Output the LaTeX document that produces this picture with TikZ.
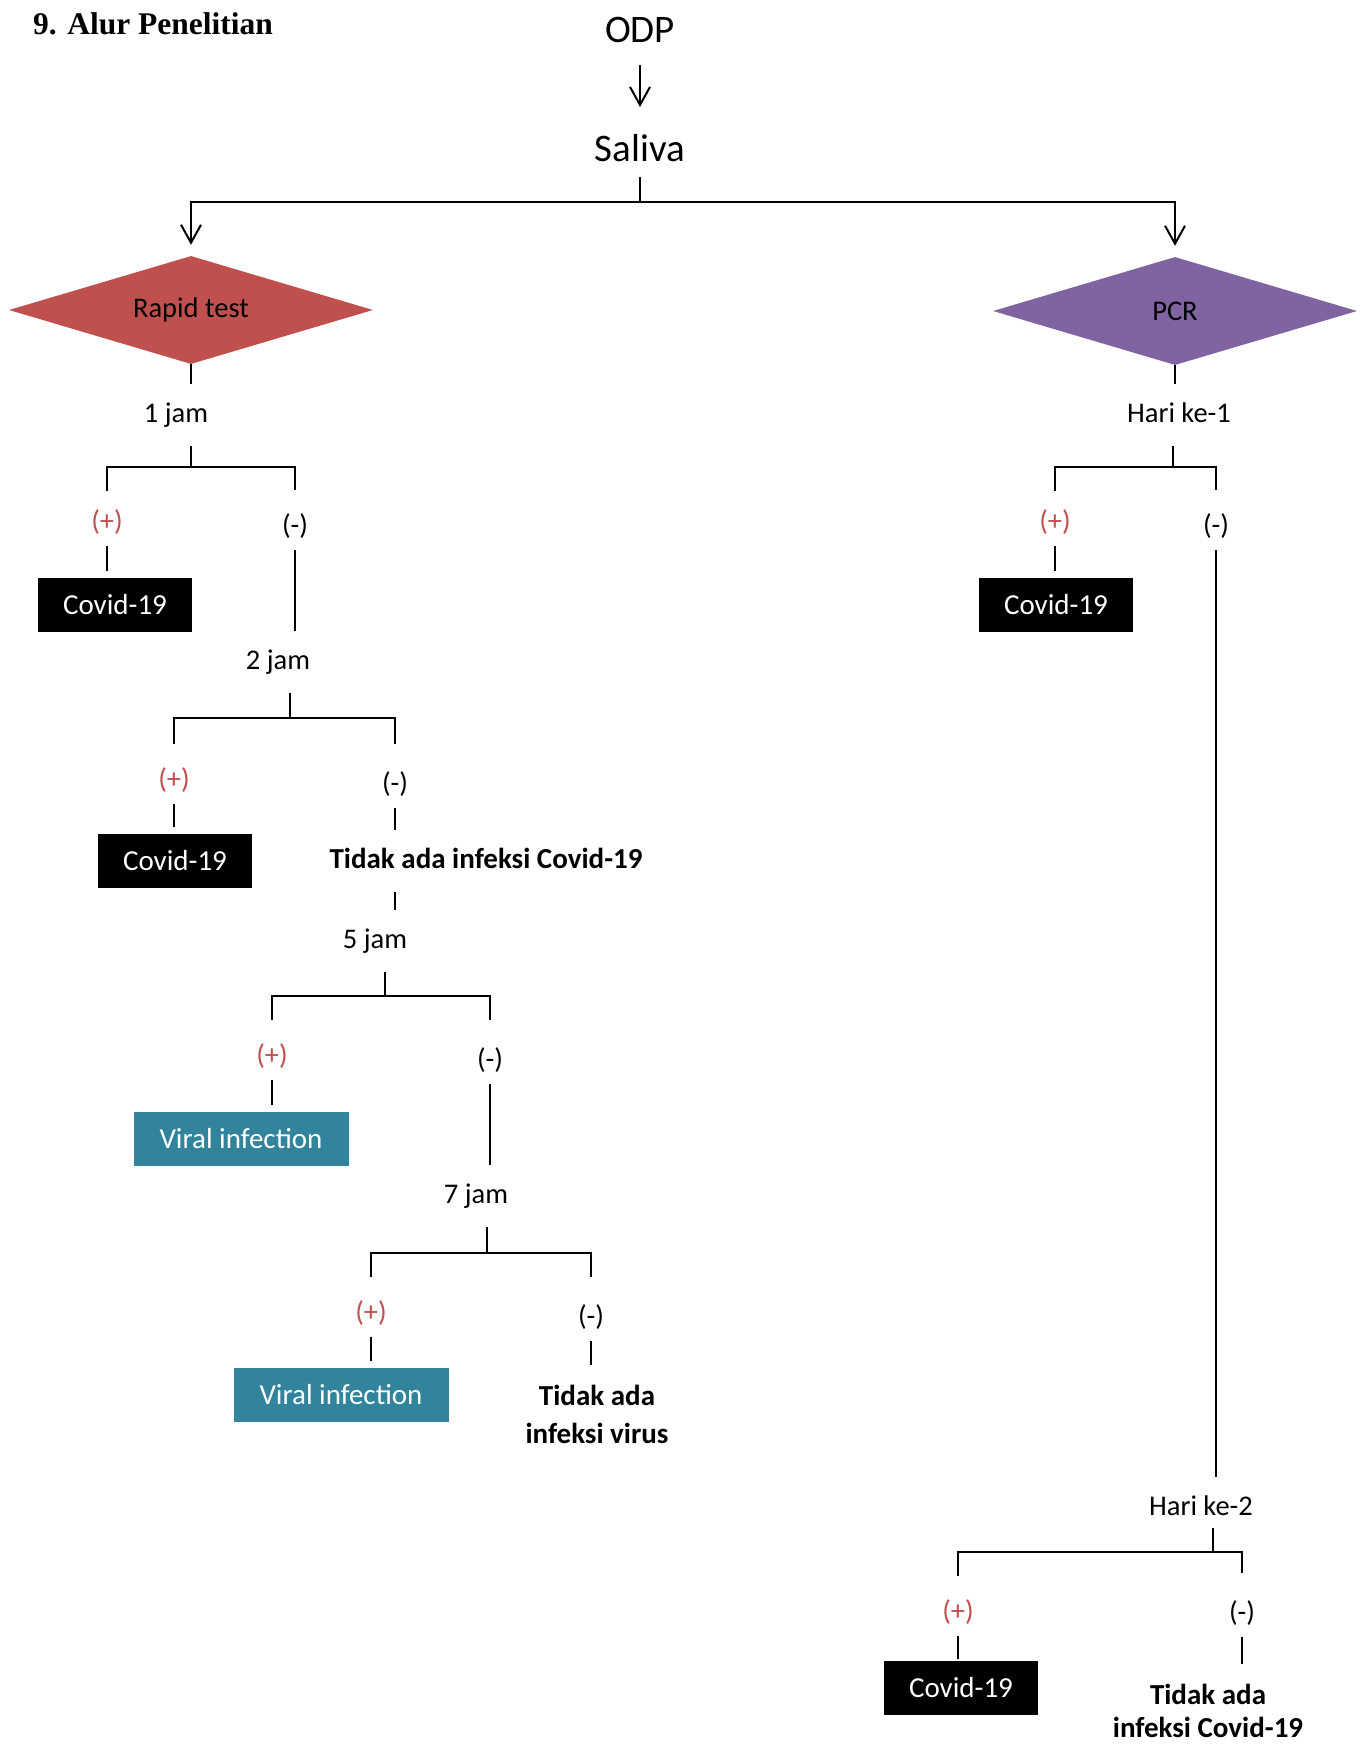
\documentclass[tikz,border=0pt]{standalone}
\usepackage{fontspec}
\setmainfont{Carlito}
\newfontfamily\titlefont{Liberation Serif}
\usetikzlibrary{shapes.geometric, arrows.meta}
\definecolor{RapidRed}{RGB}{192,80,77}
\definecolor{PcrPurple}{RGB}{128,100,162}
\definecolor{ViralTeal}{RGB}{49,132,155}

\begin{document}
\begin{tikzpicture}[x=1pt, y=-1pt,
  big/.style={font=\fontsize{39}{47}\selectfont, inner sep=0pt, text height=28pt, text depth=8pt, outer ysep=7pt, anchor=base},
  decision/.style={diamond, aspect=3.37, inner sep=0pt, minimum width=364pt, minimum height=108pt, font=\fontsize{28.5}{34}\selectfont},
  lvl/.style={font=\fontsize{28.5}{34}\selectfont, inner sep=0pt, text height=20pt, text depth=6pt, outer ysep=18pt, anchor=base},
  plussign/.style={lvl, outer ysep=10pt, text=RapidRed},
  minussign/.style={lvl, outer ysep=10pt},
  covid/.style={fill=black, text=white, minimum width=154pt, minimum height=54pt, inner sep=0pt, font=\fontsize{29}{35}\selectfont},
  viral/.style={covid, fill=ViralTeal, minimum width=215pt},
  result/.style={font=\fontsize{29}{38}\selectfont\bfseries, inner sep=0pt, outer ysep=20pt, align=center, anchor=north},
  link/.style={line width=2pt},
  arrow/.style={link, -{Straight Barb[length=18pt, width=20pt]}}
]
\useasboundingbox (0,0) rectangle (1365,1744);

\node[anchor=base west, inner sep=0pt, font=\titlefont\bfseries\fontsize{31.5}{37}\selectfont] (title) at (33,35) {9. Alur Penelitian};

% top
\node[big] (odp) at (640,43) {ODP};
\node[big] (saliva) at (640,162) {Saliva};
\coordinate (split) at (640,202);
\draw[arrow, shorten <=7pt, shorten >=20pt] (odp.south) -- (saliva.north);
\draw[link] (saliva.south) -- (split);

\node[decision, fill=RapidRed] (rapid) at (191,310) {Rapid test};
\node[decision, fill=PcrPurple] (pcr) at (1175,311) {PCR};
\draw[arrow, shorten >=11pt] (split) -| (rapid.north);
\draw[arrow, shorten >=11pt] (split) -| (pcr.north);

% rapid test, 1 jam
\node[lvl] (jam1) at (176,422) {1 jam};
\draw[link] (rapid.south) -- (rapid.south |- jam1.north);
\coordinate (b1) at (191,467);
\draw[link] (b1) -- (b1 |- jam1.south);
\node[plussign] (p1) at (107,530) {(+)};
\node[minussign] (m1) at (295,534) {(-)};
\draw[link, shorten <=9pt, shorten >=14pt] (p1.north) -- (p1 |- b1) -- (m1 |- b1) -- (m1.north);
\node[covid] (c1) at (115,605) {Covid-19};
\draw[link, shorten >=7pt] (p1.south) -- (p1.south |- c1.north);

% 2 jam
\node[lvl] (jam2) at (278,669) {2 jam};
\draw[link] (m1.south) -- (m1.south |- jam2.north);
\coordinate (b2) at (290,718);
\draw[link] (b2) -- (b2 |- jam2.south);
\node[plussign] (p2) at (174,788) {(+)};
\node[minussign] (m2) at (395,792) {(-)};
\draw[link, shorten <=14pt, shorten >=18pt] (p2.north) -- (p2 |- b2) -- (m2 |- b2) -- (m2.north);
\node[covid] (c2) at (175,861) {Covid-19};
\draw[link, shorten >=7pt] (p2.south) -- (p2.south |- c2.north);
\node[lvl, font=\fontsize{29}{35}\selectfont\bfseries] (nocov) at (486,868) {Tidak ada infeksi Covid-19};
\draw[link] (m2.south) -- (m2.south |- nocov.north);

% 5 jam
\node[lvl] (jam5) at (375,948) {5 jam};
\draw[link] (nocov.south -| m2) -- (m2 |- jam5.north);
\coordinate (b3) at (385,996);
\draw[link] (b3) -- (b3 |- jam5.south);
\node[plussign] (p3) at (272,1064) {(+)};
\node[minussign] (m3) at (490,1068) {(-)};
\draw[link, shorten <=14pt, shorten >=18pt] (p3.north) -- (p3 |- b3) -- (m3 |- b3) -- (m3.north);
\node[viral] (v3) at (241,1139) {Viral infection};
\draw[link, shorten >=7pt] (p3.south) -- (p3.south |- v3.north);

% 7 jam
\node[lvl] (jam7) at (476,1203) {7 jam};
\draw[link] (m3.south) -- (m3.south |- jam7.north);
\coordinate (b4) at (487,1253);
\draw[link] (b4) -- (b4 |- jam7.south);
\node[plussign] (p4) at (371,1321) {(+)};
\node[minussign] (m4) at (591,1325) {(-)};
\draw[link, shorten <=14pt, shorten >=18pt] (p4.north) -- (p4 |- b4) -- (m4 |- b4) -- (m4.north);
\node[viral] (v4) at (341,1395) {Viral infection};
\draw[link, shorten >=7pt] (p4.south) -- (p4.south |- v4.north);
\node[result] (novirus) at (597,1365) {Tidak ada\\infeksi virus};
\draw[link] (m4.south) -- (m4.south |- novirus.north);

% PCR, hari ke-1
\node[lvl] (hari1) at (1179,422) {Hari ke-1};
\draw[link] (pcr.south) -- (pcr.south |- hari1.north);
\coordinate (b6) at (1173,467);
\draw[link] (b6) -- (b6 |- hari1.south);
\node[plussign] (p6) at (1055,530) {(+)};
\node[minussign] (m6) at (1216,534) {(-)};
\draw[link, shorten <=9pt, shorten >=14pt] (p6.north) -- (p6 |- b6) -- (m6 |- b6) -- (m6.north);
\node[covid] (c6) at (1056,605) {Covid-19};
\draw[link, shorten >=7pt] (p6.south) -- (p6.south |- c6.north);

% hari ke-2
\node[lvl] (hari2) at (1201,1515) {Hari ke-2};
\draw[link] (m6.south) -- (m6.south |- hari2.north);
\coordinate (b7) at (1213,1552);
\draw[link, shorten >=-11pt] (b7) -- (b7 |- hari2.south);
\node[plussign] (p7) at (958,1620) {(+)};
\node[minussign] (m7) at (1242,1621) {(-)};
\draw[link, shorten <=14pt, shorten >=18pt] (p7.north) -- (p7 |- b7) -- (m7 |- b7) -- (m7.north);
\node[covid] (c7) at (961,1688) {Covid-19};
\draw[link, shorten >=2pt] (p7.south) -- (p7.south |- c7.north);
\node[result, font=\fontsize{29}{33}\selectfont\bfseries] (nocov2) at (1208,1664) {Tidak ada\\infeksi Covid-19};
\draw[link] (m7.south) -- (m7.south |- nocov2.north);

\end{tikzpicture}
\end{document}
